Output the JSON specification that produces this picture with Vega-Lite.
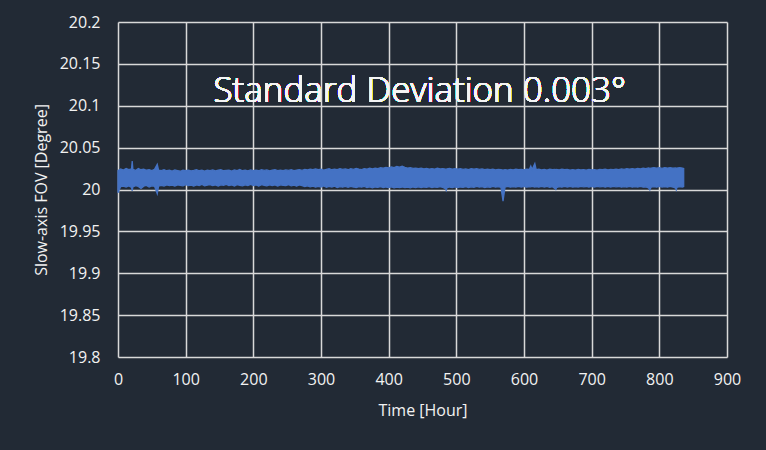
{
  "$schema": "https://vega.github.io/schema/vega-lite/v6.json",
  "width": 609,
  "height": 335,
  "autosize": {"type": "none"},
  "padding": {"left": 118, "top": 22, "right": 39, "bottom": 93},
  "background": "#222a35",
  "config": {
    "view": {"stroke": null},
    "axis": {
      "domain": false,
      "ticks": false,
      "grid": true,
      "gridColor": "#d9d9d9",
      "gridWidth": 1.5,
      "labelColor": "#f2f2f2",
      "labelFont": "Open Sans",
      "labelFontSize": 16,
      "labelFlush": false,
      "titleColor": "#f2f2f2",
      "titleFont": "Open Sans",
      "titleFontSize": 16,
      "titleFontWeight": "normal"
    }
  },
  "data": {
    "values": [
      {"t":0,"lo":19.996,"hi":20.0225},{"t":4,"lo":20.0035,"hi":20.0245},{"t":8,"lo":20.004,"hi":20.0232},{"t":12,"lo":20.003,"hi":20.025},{"t":16,"lo":20.0042,"hi":20.0238},{"t":20,"lo":20.0025,"hi":20.0246},{"t":21,"lo":19.9985,"hi":20.034},{"t":22,"lo":20.003,"hi":20.024},{"t":26,"lo":20.0045,"hi":20.0228},{"t":30,"lo":20.0036,"hi":20.0252},{"t":34,"lo":20.0012,"hi":20.0236},{"t":38,"lo":20.004,"hi":20.0244},{"t":42,"lo":20.0048,"hi":20.023},{"t":46,"lo":20.003,"hi":20.0238},{"t":50,"lo":20.0044,"hi":20.0226},{"t":54,"lo":20.0038,"hi":20.024},{"t":58,"lo":19.995,"hi":20.03},{"t":60,"lo":20.004,"hi":20.0232},
      {"t":64,"lo":20.005,"hi":20.0226},{"t":68,"lo":20.0042,"hi":20.0236},{"t":72,"lo":20.0055,"hi":20.0224},{"t":76,"lo":20.0046,"hi":20.023},{"t":80,"lo":20.0052,"hi":20.022},{"t":84,"lo":20.004,"hi":20.0234},{"t":88,"lo":20.0056,"hi":20.0226},{"t":92,"lo":20.0048,"hi":20.0218},{"t":96,"lo":20.0044,"hi":20.023},{"t":100,"lo":20.0058,"hi":20.0224},{"t":104,"lo":20.0046,"hi":20.0232},{"t":108,"lo":20.0052,"hi":20.0222},{"t":112,"lo":20.004,"hi":20.0228},{"t":116,"lo":20.0054,"hi":20.0236},{"t":120,"lo":20.0048,"hi":20.0224},{"t":124,"lo":20.006,"hi":20.023},{"t":128,"lo":20.0044,"hi":20.022},{"t":132,"lo":20.0052,"hi":20.0232},{"t":136,"lo":20.0058,"hi":20.0226},{"t":140,"lo":20.0046,"hi":20.0234},{"t":144,"lo":20.0054,"hi":20.0222},{"t":148,"lo":20.004,"hi":20.023},{"t":152,"lo":20.0056,"hi":20.0236},{"t":156,"lo":20.005,"hi":20.0224},{"t":160,"lo":20.0062,"hi":20.0228},{"t":164,"lo":20.0046,"hi":20.0232},{"t":168,"lo":20.0054,"hi":20.022},{"t":172,"lo":20.0042,"hi":20.0234},{"t":176,"lo":20.0058,"hi":20.0226},{"t":180,"lo":20.005,"hi":20.0238},{"t":184,"lo":20.0044,"hi":20.0224},{"t":188,"lo":20.0056,"hi":20.023},{"t":192,"lo":20.0048,"hi":20.0222},{"t":196,"lo":20.006,"hi":20.0234},{"t":200,"lo":20.0046,"hi":20.0226},{"t":204,"lo":20.0054,"hi":20.0232},{"t":208,"lo":20.004,"hi":20.0224},{"t":212,"lo":20.0058,"hi":20.0236},{"t":216,"lo":20.005,"hi":20.0228},{"t":220,"lo":20.0044,"hi":20.0234},{"t":224,"lo":20.0056,"hi":20.0222},{"t":228,"lo":20.0048,"hi":20.023},{"t":232,"lo":20.0054,"hi":20.0236},{"t":236,"lo":20.0042,"hi":20.0226},{"t":240,"lo":20.0056,"hi":20.0232},{"t":244,"lo":20.005,"hi":20.0224},{"t":248,"lo":20.0046,"hi":20.0234},{"t":252,"lo":20.0058,"hi":20.0228},{"t":256,"lo":20.0044,"hi":20.0236},{"t":260,"lo":20.0052,"hi":20.0226},{"t":264,"lo":20.004,"hi":20.0232},{"t":268,"lo":20.0054,"hi":20.0238},{"t":272,"lo":20.0046,"hi":20.0228},{"t":276,"lo":20.0036,"hi":20.024},
      {"t":280,"lo":20.0044,"hi":20.0234},{"t":284,"lo":20.0032,"hi":20.0242},{"t":288,"lo":20.004,"hi":20.0236},{"t":292,"lo":20.0028,"hi":20.0246},{"t":296,"lo":20.0038,"hi":20.0238},{"t":300,"lo":20.003,"hi":20.0244},{"t":304,"lo":20.0042,"hi":20.0232},{"t":308,"lo":20.0026,"hi":20.024},{"t":312,"lo":20.0036,"hi":20.0248},{"t":316,"lo":20.003,"hi":20.0236},{"t":320,"lo":20.004,"hi":20.0244},{"t":324,"lo":20.0024,"hi":20.0238},{"t":328,"lo":20.0034,"hi":20.025},{"t":332,"lo":20.0028,"hi":20.024},{"t":336,"lo":20.0038,"hi":20.0246},{"t":340,"lo":20.0026,"hi":20.0236},{"t":344,"lo":20.0036,"hi":20.0248},{"t":348,"lo":20.003,"hi":20.024},{"t":352,"lo":20.0022,"hi":20.0252},{"t":356,"lo":20.0034,"hi":20.0244},{"t":360,"lo":20.0028,"hi":20.0238},{"t":364,"lo":20.0038,"hi":20.025},{"t":368,"lo":20.0024,"hi":20.0242},{"t":372,"lo":20.0032,"hi":20.0254},{"t":376,"lo":20.002,"hi":20.0246},{"t":380,"lo":20.003,"hi":20.0256},{"t":384,"lo":20.0026,"hi":20.025},{"t":388,"lo":20.0034,"hi":20.026},{"t":392,"lo":20.0022,"hi":20.0254},{"t":396,"lo":20.003,"hi":20.0264},{"t":400,"lo":20.0024,"hi":20.0258},{"t":404,"lo":20.0032,"hi":20.027},{"t":408,"lo":20.002,"hi":20.0262},{"t":412,"lo":20.0028,"hi":20.0274},{"t":416,"lo":20.0024,"hi":20.0266},{"t":420,"lo":20.003,"hi":20.0278},{"t":424,"lo":20.0022,"hi":20.0264},{"t":428,"lo":20.0028,"hi":20.0256},{"t":432,"lo":20.002,"hi":20.026},{"t":436,"lo":20.003,"hi":20.0252},
      {"t":440,"lo":20.0024,"hi":20.0256},{"t":444,"lo":20.0032,"hi":20.0248},{"t":448,"lo":20.0022,"hi":20.0254},{"t":452,"lo":20.003,"hi":20.0246},{"t":456,"lo":20.0026,"hi":20.0252},{"t":460,"lo":20.0034,"hi":20.0244},{"t":464,"lo":20.0022,"hi":20.025},{"t":468,"lo":20.003,"hi":20.0242},{"t":472,"lo":20.0026,"hi":20.0254},{"t":476,"lo":20.0034,"hi":20.0246},{"t":480,"lo":20.0024,"hi":20.025},{"t":484,"lo":20.001,"hi":20.0244},{"t":485,"lo":19.999,"hi":20.024},{"t":486,"lo":20.002,"hi":20.0246},{"t":490,"lo":20.003,"hi":20.0252},{"t":494,"lo":20.0024,"hi":20.0244},{"t":498,"lo":20.0032,"hi":20.025},{"t":502,"lo":20.0022,"hi":20.0242},{"t":506,"lo":20.003,"hi":20.0248},{"t":510,"lo":20.0026,"hi":20.024},{"t":514,"lo":20.0034,"hi":20.0246},{"t":518,"lo":20.0024,"hi":20.0238},{"t":522,"lo":20.0032,"hi":20.025},{"t":526,"lo":20.0026,"hi":20.0242},{"t":530,"lo":20.0036,"hi":20.0248},{"t":534,"lo":20.0028,"hi":20.024},{"t":538,"lo":20.0034,"hi":20.0246},{"t":542,"lo":20.0024,"hi":20.0238},{"t":546,"lo":20.0032,"hi":20.0244},{"t":550,"lo":20.0026,"hi":20.0236},{"t":554,"lo":20.0036,"hi":20.0242},{"t":558,"lo":20.0028,"hi":20.0234},{"t":562,"lo":20.0034,"hi":20.024},{"t":566,"lo":20.0026,"hi":20.0236},{"t":569,"lo":19.986,"hi":20.0232},{"t":572,"lo":20.003,"hi":20.0238},{"t":576,"lo":20.0036,"hi":20.0232},{"t":580,"lo":20.0028,"hi":20.024},{"t":584,"lo":20.0034,"hi":20.0234},{"t":588,"lo":20.003,"hi":20.0242},{"t":592,"lo":20.0038,"hi":20.0236},{"t":596,"lo":20.003,"hi":20.024},{"t":600,"lo":20.0036,"hi":20.0234},{"t":604,"lo":20.0028,"hi":20.0244},{"t":608,"lo":20.0034,"hi":20.024},{"t":610,"lo":20.0032,"hi":20.028},{"t":612,"lo":20.0036,"hi":20.0238},{"t":616,"lo":20.003,"hi":20.031},{"t":618,"lo":20.0034,"hi":20.0236},{"t":622,"lo":20.0028,"hi":20.0242},{"t":626,"lo":20.0036,"hi":20.0234},{"t":630,"lo":20.003,"hi":20.024},{"t":634,"lo":20.0038,"hi":20.0232},{"t":638,"lo":20.0026,"hi":20.0244},{"t":642,"lo":20.0034,"hi":20.0236},{"t":646,"lo":20.001,"hi":20.024},{"t":647,"lo":20.0,"hi":20.0236},{"t":648,"lo":20.0022,"hi":20.024},{"t":652,"lo":20.0034,"hi":20.0234},{"t":656,"lo":20.0028,"hi":20.0242},{"t":660,"lo":20.0036,"hi":20.0236},{"t":664,"lo":20.003,"hi":20.024},{"t":668,"lo":20.0038,"hi":20.0232},{"t":672,"lo":20.0028,"hi":20.0238},{"t":676,"lo":20.0034,"hi":20.023},{"t":680,"lo":20.003,"hi":20.024},{"t":684,"lo":20.0038,"hi":20.0234},{"t":688,"lo":20.0032,"hi":20.0238},{"t":692,"lo":20.0036,"hi":20.023},{"t":696,"lo":20.0028,"hi":20.024},{"t":700,"lo":20.0036,"hi":20.0234},{"t":704,"lo":20.003,"hi":20.0238},{"t":708,"lo":20.0038,"hi":20.023},{"t":712,"lo":20.0032,"hi":20.024},{"t":716,"lo":20.0036,"hi":20.0236},
      {"t":720,"lo":20.0028,"hi":20.0242},{"t":724,"lo":20.0036,"hi":20.0234},{"t":728,"lo":20.003,"hi":20.024},{"t":732,"lo":20.0038,"hi":20.0236},{"t":736,"lo":20.0032,"hi":20.0244},{"t":740,"lo":20.0036,"hi":20.0238},{"t":744,"lo":20.0028,"hi":20.0246},{"t":748,"lo":20.0034,"hi":20.024},{"t":752,"lo":20.003,"hi":20.0248},{"t":756,"lo":20.0036,"hi":20.0242},{"t":760,"lo":20.0028,"hi":20.025},{"t":764,"lo":20.0034,"hi":20.0244},{"t":768,"lo":20.003,"hi":20.0252},{"t":772,"lo":20.0036,"hi":20.0246},{"t":776,"lo":20.0028,"hi":20.0256},{"t":780,"lo":20.0032,"hi":20.025},{"t":784,"lo":20.002,"hi":20.0258},{"t":786,"lo":19.9995,"hi":20.0252},{"t":788,"lo":20.003,"hi":20.0256},{"t":792,"lo":20.0034,"hi":20.0262},{"t":796,"lo":20.0028,"hi":20.0254},{"t":800,"lo":20.0036,"hi":20.026},{"t":804,"lo":20.003,"hi":20.0252},{"t":808,"lo":20.0034,"hi":20.0262},{"t":812,"lo":20.0028,"hi":20.0256},{"t":816,"lo":20.0036,"hi":20.026},{"t":820,"lo":20.003,"hi":20.0254},{"t":824,"lo":20.0016,"hi":20.0258},{"t":825,"lo":19.9995,"hi":20.0252},{"t":826,"lo":20.0026,"hi":20.0256},{"t":830,"lo":20.0034,"hi":20.0262},{"t":834,"lo":20.003,"hi":20.0256},{"t":836,"lo":20.0036,"hi":20.025}
    ]
  },
  "layer": [
    {
      "mark": {"type": "text", "font": "Open Sans", "fontWeight": 300, "fontSize": 35, "color": "#f5f5f5", "align": "center", "baseline": "alphabetic"},
      "encoding": {
        "x": {"datum": 446, "type": "quantitative"},
        "y": {"datum": 20.104, "type": "quantitative"},
        "text": {"value": "Standard Deviation 0.003°"}
      }
    },
    {
      "mark": {"type": "area", "color": "#4472c4", "stroke": "#4472c4", "strokeWidth": 1.3, "opacity": 1},
      "encoding": {
        "x": {
          "field": "t", "type": "quantitative",
          "scale": {"domain": [0, 900], "nice": false},
          "axis": {"values": [0,100,200,300,400,500,600,700,800,900], "format": "d", "title": "Time [Hour]", "labelPadding": 14, "titlePadding": 15}
        },
        "y": {
          "field": "lo", "type": "quantitative",
          "scale": {"domain": [19.8, 20.2], "nice": false, "zero": false},
          "axis": {"values": [19.8,19.85,19.9,19.95,20,20.05,20.1,20.15,20.2], "format": "~g", "title": "Slow-axis FOV [Degree]", "labelPadding": 18, "titlePadding": 10}
        },
        "y2": {"field": "hi"}
      }
    }
  ]
}
